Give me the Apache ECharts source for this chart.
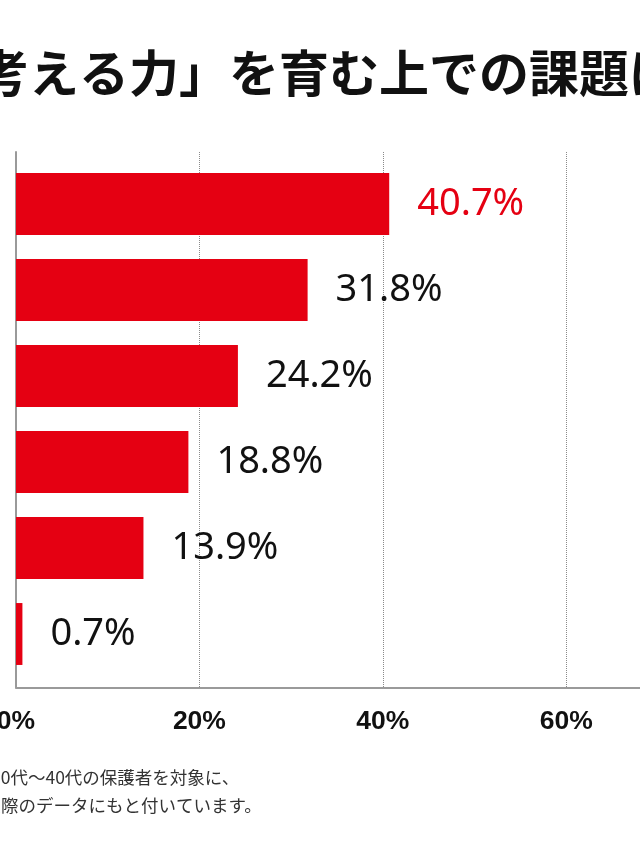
<!DOCTYPE html>
<html>
<head>
<meta charset="utf-8">
<script src="https://cdn.jsdelivr.net/npm/echarts@6/dist/echarts.min.js"></script>
<style>
html,body{margin:0;padding:0;background:#fff;}
#chart{width:640px;height:853px;}
</style>
</head>
<body>
<div id="chart"></div>
<script>
const categories = ['項目1', '項目2', '項目3', '項目4', '項目5', '項目6'];
const values = [40.7, 31.8, 24.2, 18.8, 13.9, 0.7];
const xTicks = [0, 20, 40, 60, 80];
const titleText = '「考える力」を育む上での課題は？';
const noteLines = ['30代～40代の保護者を対象に、', '実際のデータにもと付いています。'];

const RED = '#E50012';
const chart = echarts.init(document.getElementById('chart'), null, {renderer: 'canvas'});

const PX_PER = 9.17;
const xMax = xTicks[xTicks.length - 1];
const gridW = PX_PER * xMax;
const gridLeft = 16;

const option = {
  animation: false,
  backgroundColor: '#ffffff',
  grid: [
    {left: gridLeft, width: gridW, top: 161, height: 516, containLabel: false, outerBoundsMode: 'none'},
    {left: gridLeft, width: gridW, top: 152, height: 535.5, containLabel: false, outerBoundsMode: 'none'}
  ],
  xAxis: [
    {gridIndex: 0, type: 'value', min: 0, max: xMax, interval: 20, show: false},
    {gridIndex: 1, type: 'value', min: 0, max: xMax, interval: 20,
      axisLine: {show: true, lineStyle: {color: '#9a9a9a', width: 2}},
      axisTick: {show: false},
      splitLine: {show: true, lineStyle: {color: '#8a8a8a', width: 1, type: [1, 1]}},
      axisLabel: {show: true, margin: 21, color: '#111', fontSize: 26.5,
        fontFamily: '"Liberation Sans Narrow", "Liberation Sans", sans-serif', fontWeight: 'bold',
        formatter: v => v + '%'}
    }
  ],
  yAxis: [
    {gridIndex: 0, type: 'category', data: categories, inverse: true, show: false},
    {gridIndex: 1, type: 'value', min: 0, max: 1, show: true,
      axisLine: {show: true, lineStyle: {color: '#9a9a9a', width: 2}},
      axisTick: {show: false}, axisLabel: {show: false}, splitLine: {show: false}}
  ],
  series: [{
    type: 'bar',
    xAxisIndex: 0, yAxisIndex: 0,
    barCategoryGap: '28%',
    itemStyle: {color: RED},
    data: values.map((v, i) => ({
      value: v,
      label: {color: i === 0 ? RED : '#111'}
    })),
    label: {
      show: true, position: 'right', distance: 28,
      fontSize: 38, fontFamily: '"Noto Sans", sans-serif',
      formatter: p => p.value.toFixed(1) + '%'
    }
  }],
  graphic: [
    {type: 'text', left: -71, top: 48, silent: true,
      style: {text: titleText, fontSize: 50, fontWeight: 'bold', fill: '#111',
        fontFamily: '"Noto Sans CJK JP", sans-serif'}},
    {type: 'text', left: -9, top: 768.5, silent: true,
      style: {text: noteLines[0], fontSize: 17.5, fill: '#333',
        fontFamily: '"Noto Sans CJK JP", sans-serif'}},
    {type: 'text', left: -16.5, top: 796.5, silent: true,
      style: {text: noteLines[1], fontSize: 17.5, fill: '#333',
        fontFamily: '"Noto Sans CJK JP", sans-serif'}}
  ]
};
chart.setOption(option);
</script>
</body>
</html>
